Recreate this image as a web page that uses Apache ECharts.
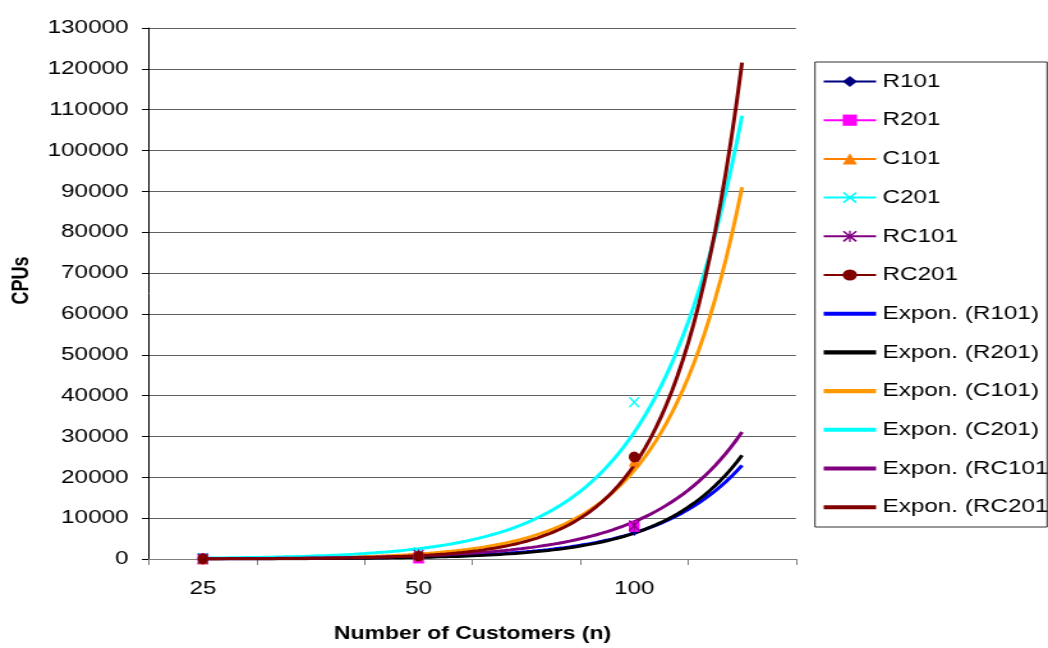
<!DOCTYPE html>
<html>
<head>
<meta charset="utf-8">
<script src="https://cdn.jsdelivr.net/npm/echarts@6/dist/echarts.min.js"></script>
<style>
  html, body { margin: 0; padding: 0; background: #fff; overflow: hidden; }
  /* the chart is laid out narrow and widened horizontally, like the original sheet chart */
  #chart { width: 820px; height: 648px; transform: scaleX(1.278); transform-origin: 0 0; }
</style>
</head>
<body>
<div id="chart"></div>
<script>
// Category slots on the x axis; measured points sit in slots 0, 2 and 4.
const customerLabels = ['25', '', '50', '', '100', ''];
const measuredSlots = [0, 2, 4];

// CPUs measured for n = 25, 50, 100 customers
const R101  = [42, 411, 7000];
const R201  = [31, 247, 8000];
const C101  = [77, 1000, 24000];
const C201  = [256, 1650, 38400];
const RC101 = [61, 975, 8200];
const RC201 = [32, 695, 25000];

const seriesNames  = ['R101', 'R201', 'C101', 'C201', 'RC101', 'RC201'];
const seriesValues = [R101, R201, C101, C201, RC101, RC201];
const markerColors = ['#000080', '#FF00FF', '#FF8000', '#00FFFF', '#800080', '#800000'];
const trendColors  = ['#0000FF', '#000000', '#FF9900', '#00FFFF', '#800080', '#800000'];

const xMark = 'path://M1,0L5,4L9,0L10,1L6,5L10,9L9,10L5,6L1,10L0,9L4,5L0,1Z';
const starMark = 'path://M1,0L5,4L9,0L10,1L6,5L10,9L9,10L5,6L1,10L0,9L4,5L0,1ZM4.4,0H5.6V10H4.4Z';
const markerShapes = ['diamond', 'rect', 'triangle', xMark, starMark, 'circle'];

const FONT = "'Liberation Sans', Arial, sans-serif";

// Exponential trend y = exp(a + b*x), least squares on ln(y),
// x being the 1-based category position of each measured point.
function expTrend(values) {
  const xs = measuredSlots.map(s => s + 1);
  const ls = values.map(v => Math.log(v));
  const n = xs.length;
  const mx = xs.reduce((s, v) => s + v, 0) / n;
  const ml = ls.reduce((s, v) => s + v, 0) / n;
  let sxy = 0, sxx = 0;
  for (let i = 0; i < n; i++) {
    sxy += (xs[i] - mx) * (ls[i] - ml);
    sxx += (xs[i] - mx) * (xs[i] - mx);
  }
  const b = sxy / sxx;
  const a = ml - b * mx;
  const pts = [];
  const xEnd = customerLabels.length; // forecast one slot past the last point
  for (let x = 1; x <= xEnd + 1e-9; x += 0.05) {
    pts.push([x, Math.exp(a + b * x)]);
  }
  return pts;
}

function toSlots(values) {
  const arr = customerLabels.map(() => null);
  measuredSlots.forEach((s, i) => { arr[s] = values[i]; });
  return arr;
}

const series = [];
const legendData = [];

seriesNames.forEach((name, i) => {
  series.push({
    name: name,
    type: 'line',
    xAxisIndex: 0,
    data: toSlots(seriesValues[i]),
    connectNulls: false,
    symbol: markerShapes[i],
    symbolSize: [8.5, 11],
    showSymbol: true,
    itemStyle: { color: markerColors[i] },
    lineStyle: { color: markerColors[i], width: 1.5 },
    emphasis: { disabled: true },
    z: 4
  });
  legendData.push({ name: name });
});

seriesNames.forEach((name, i) => {
  const tName = 'Expon. (' + name + ')';
  series.push({
    name: tName,
    type: 'line',
    xAxisIndex: 1,
    data: expTrend(seriesValues[i]),
    symbol: 'none',
    itemStyle: { color: trendColors[i] },
    lineStyle: { color: trendColors[i], width: 3 },
    emphasis: { disabled: true },
    z: 3
  });
  legendData.push({ name: tName, icon: 'path://M0,0H40V4H0Z' });
});

const chart = echarts.init(document.getElementById('chart'), null, { renderer: 'canvas' });
chart.setOption({
  animation: false,
  backgroundColor: '#ffffff',
  textStyle: { fontFamily: FONT },
  grid: { left: 116.6, right: 197.2, top: 28, bottom: 88, containLabel: false },
  xAxis: [
    {
      type: 'category',
      data: customerLabels,
      boundaryGap: true,
      axisLine: { lineStyle: { color: '#808080', width: 1 } },
      axisTick: { show: true, interval: 0, length: 6, lineStyle: { color: '#808080' } },
      axisLabel: { interval: 0, fontSize: 19, color: '#000', margin: 20, fontFamily: FONT },
      splitLine: { show: false },
      name: 'Number of Customers (n)',
      nameLocation: 'middle',
      nameGap: 66,
      nameTextStyle: { fontSize: 18, fontWeight: 'bold', color: '#000', fontFamily: FONT }
    },
    { type: 'value', min: 0.5, max: 6.5, show: false }
  ],
  yAxis: {
    type: 'value',
    min: 0,
    max: 130000,
    interval: 10000,
    axisLine: { show: true, lineStyle: { color: '#000', width: 1 } },
    axisTick: { show: true, length: 5.5, lineStyle: { color: '#000' } },
    axisLabel: { fontSize: 19, color: '#000', margin: 16, fontFamily: FONT, formatter: v => String(v) },
    splitLine: { show: true, lineStyle: { color: '#606060', width: 1 } },
    name: 'CPUs',
    nameLocation: 'middle',
    nameGap: 90,
    nameTextStyle: { fontSize: 18, fontWeight: 'bold', color: '#000', fontFamily: FONT, padding: [0, 0, 0, 26] }
  },
  legend: {
    orient: 'vertical',
    left: 643.5,
    top: 72,
    padding: 0,
    itemWidth: 41,
    itemHeight: 14,
    itemGap: 19.7,
    selectedMode: false,
    textStyle: { fontSize: 19, lineHeight: 19, color: '#000', fontFamily: FONT },
    data: legendData
  },
  graphic: [{
    type: 'rect',
    shape: { x: 637.7, y: 62, width: 181.6, height: 465 },
    style: { fill: 'none', stroke: '#333', lineWidth: 1 },
    silent: true
  }],
  series: series
});
</script>
</body>
</html>
